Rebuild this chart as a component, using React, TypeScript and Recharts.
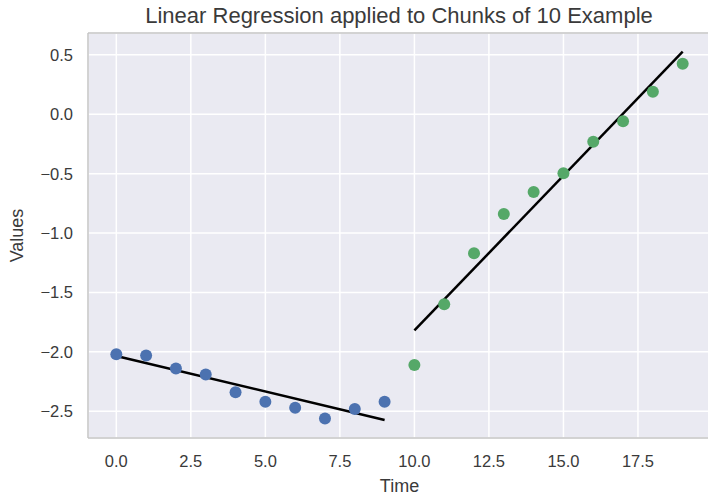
import React from 'react';
import {
  ComposedChart,
  Scatter,
  Line,
  XAxis,
  YAxis,
  CartesianGrid,
  ReferenceLine,
  Label,
} from 'recharts';

// first chunk (points 0-9) and its fit
const blueTimes = [0, 1, 2, 3, 4, 5, 6, 7, 8, 9];
const blueValues = [-2.02, -2.03, -2.14, -2.19, -2.34, -2.42, -2.47, -2.56, -2.48, -2.42];
const blueFitTimes = [0, 9];
const blueFitValues = [-2.035, -2.573];

// second chunk (points 10-19) and its fit
const greenTimes = [10, 11, 12, 13, 14, 15, 16, 17, 18, 19];
const greenValues = [-2.11, -1.6, -1.17, -0.84, -0.654, -0.497, -0.231, -0.059, 0.19, 0.426];
const greenFitTimes = [10, 19];
const greenFitValues = [-1.82, 0.527];

const xTicks = [0, 2.5, 5, 7.5, 10, 12.5, 15, 17.5];
const yTicks = [-2.5, -2, -1.5, -1, -0.5, 0, 0.5];

const X_DOMAIN: [number, number] = [-0.95, 19.95];
const Y_DOMAIN: [number, number] = [-2.725, 0.684];

const FONT = '"Liberation Sans", Arial, sans-serif';
const TEXT = '#3a3a3a';
const FRAME = '#c4c4c4';

const zip = (xs: number[], ys: number[]) => xs.map((x, i) => ({ x, y: ys[i] }));

const blueData = zip(blueTimes, blueValues);
const greenData = zip(greenTimes, greenValues);
const blueFit = zip(blueFitTimes, blueFitValues);
const greenFit = zip(greenFitTimes, greenFitValues);

const fmt = (v: number) => v.toFixed(1).replace('-', '\u2212');

const dot = (color: string) => (p: any) => (
  <circle cx={p.cx} cy={p.cy} r={6} fill={color} />
);

export default function App() {
  return (
    <div
      style={{
        position: 'absolute',
        left: 0,
        top: 0,
        width: 708,
        height: 494,
        overflow: 'hidden',
        background: '#fff',
        fontFamily: FONT,
      }}
    >
      <div
        style={{
          position: 'absolute',
          left: 0,
          width: 798,
          top: 3,
          textAlign: 'center',
          fontSize: 22,
          color: TEXT,
        }}
      >
        Linear Regression applied to Chunks of 10 Example
      </div>
      <ComposedChart
        width={730}
        height={494}
        margin={{ top: 33, right: 19, bottom: 0, left: 8 }}
        style={{ fontFamily: FONT }}
      >
        <CartesianGrid fill="#EAEAF2" stroke="#ffffff" strokeWidth={1.5} />
        <XAxis
          type="number"
          dataKey="x"
          domain={X_DOMAIN}
          allowDataOverflow
          ticks={xTicks}
          tickFormatter={fmt}
          tickSize={0}
          tickMargin={17}
          height={56}
          axisLine={{ stroke: FRAME, strokeWidth: 1.5 }}
          tick={{ fill: TEXT, fontSize: 16.5 }}
        >
          <Label value="Time" position="insideBottom" offset={2.5} fill={TEXT} fontSize={18} />
        </XAxis>
        <YAxis
          type="number"
          dataKey="y"
          domain={Y_DOMAIN}
          allowDataOverflow
          ticks={yTicks}
          tickFormatter={fmt}
          tickSize={0}
          tickMargin={15}
          width={80}
          axisLine={{ stroke: FRAME, strokeWidth: 1.5 }}
          tick={{ fill: TEXT, fontSize: 16.5 }}
        >
          <Label
            value="Values"
            angle={-90}
            position="insideLeft"
            offset={9}
            fill={TEXT}
            fontSize={18}
            style={{ textAnchor: 'middle' }}
          />
        </YAxis>
        <ReferenceLine y={Y_DOMAIN[1]} stroke={FRAME} strokeWidth={1.5} />
        <Scatter data={blueData} shape={dot('#4C72B0')} isAnimationActive={false} />
        <Scatter data={greenData} shape={dot('#55A868')} isAnimationActive={false} />
        <Line
          data={blueFit}
          dataKey="y"
          stroke="#000"
          strokeWidth={2.5}
          dot={false}
          activeDot={false}
          isAnimationActive={false}
        />
        <Line
          data={greenFit}
          dataKey="y"
          stroke="#000"
          strokeWidth={2.5}
          dot={false}
          activeDot={false}
          isAnimationActive={false}
        />
      </ComposedChart>
    </div>
  );
}
